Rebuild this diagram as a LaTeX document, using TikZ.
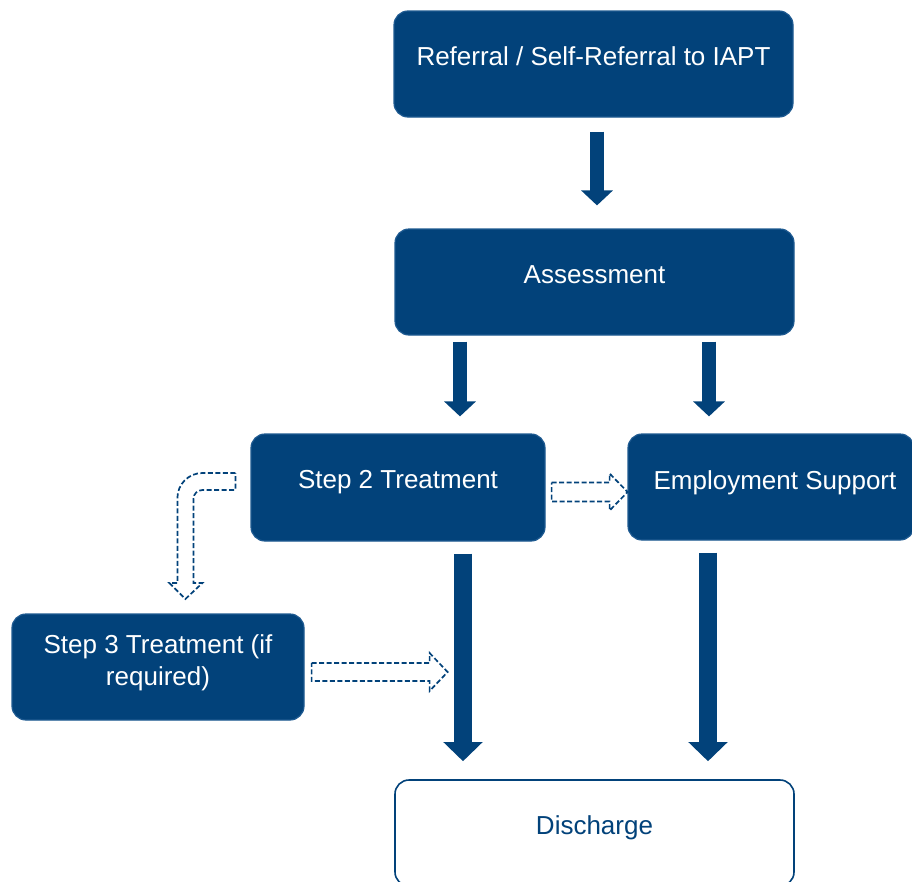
\documentclass[tikz,border=0pt]{standalone}
\usepackage{fontspec}
\setmainfont{Liberation Sans}
\usetikzlibrary{arrows.meta,calc}
\definecolor{nhsblue}{RGB}{2,66,122}
\definecolor{edgeblue}{RGB}{30,90,145}
\tikzset{
  box/.style={draw=edgeblue, line width=1.2pt, fill=nhsblue, rounded corners=14pt, inner sep=0pt},
  whitebox/.style={draw=nhsblue, line width=1.6pt, fill=white, rounded corners=14pt, inner sep=0pt},
  lbl/.style={text=white, font=\fontsize{26}{32}\selectfont, align=center, inner sep=0pt},
  dlbl/.style={text=nhsblue, font=\fontsize{26}{32}\selectfont, align=center, inner sep=0pt},
  bigarr/.style={draw=nhsblue, line width=14.5pt, -{Triangle[width=31pt,length=15pt]}},
  hugearr/.style={draw=nhsblue, line width=18pt, -{Triangle[width=38pt,length=19pt]}},
  dasharr/.style={draw=nhsblue, line width=1.7pt, dash pattern=on 5pt off 2.5pt, fill=white, line join=miter}
}
\begin{document}
\begin{tikzpicture}[x=1pt,y=-1pt]
\useasboundingbox (0,0) rectangle (912,881);
% boxes
\node[box, minimum width=399pt, minimum height=106pt] (ref) at (593.5,64) {};
\node[lbl] (reft) at ([yshift=8pt]ref.center) {Referral / Self-Referral to IAPT};
\node[box, minimum width=399pt, minimum height=106pt] (ass) at (594.5,282) {};
\node[lbl] (asst) at ([yshift=7pt]ass.center) {Assessment};
\node[box, minimum width=294pt, minimum height=107pt] (s2) at (398,487.5) {};
\node[lbl] (s2t) at ([yshift=5pt]s2.center) {Step 2 Treatment};
\node[box, minimum width=286pt, minimum height=106pt] (emp) at (771,487) {};
\node[lbl] (empt) at ([xshift=4pt,yshift=4pt]emp.center) {Employment Support};
\node[box, minimum width=292pt, minimum height=106pt] (s3) at (158,667) {};
\node[lbl] (s3t) at ([yshift=4pt]s3.center) {Step 3 Treatment (if\\required)};
\node[whitebox, minimum width=399pt, minimum height=106pt] (dis) at (594.5,833) {};
\node[dlbl] (dist) at ([yshift=5pt]dis.center) {Discharge};
% solid arrows
\draw[bigarr] ([xshift=3.5pt,yshift=-14pt]ref.south) -- ([xshift=2.5pt,yshift=23pt]ass.north);
\draw[bigarr] ([xshift=-134.5pt,yshift=-6pt]ass.south) -- ([xshift=62pt,yshift=17pt]s2.north);
\draw[bigarr] ([xshift=114.5pt,yshift=-6pt]ass.south) -- ([xshift=-62pt,yshift=17pt]emp.north);
\draw[hugearr] ([xshift=65pt,yshift=-12pt]s2.south) -- ([xshift=-131.5pt,yshift=18pt]dis.north);
\draw[hugearr] ([xshift=-63pt,yshift=-12pt]emp.south) -- ([xshift=113.5pt,yshift=18pt]dis.north);
% dashed block arrows
\draw[dasharr] ([xshift=6pt,yshift=5pt]s2.east) -- ++(58,0) -- ++(0,-9) -- ++(18,18.5) -- ++(-18,18.5) -- ++(0,-9) -- ++(-58,0) -- cycle;
\draw[dasharr] ([xshift=7pt,yshift=4pt]s3.east) -- ++(118,0) -- ++(0,-10) -- ++(18,19) -- ++(-18,19) -- ++(0,-10) -- ++(-118,0) -- cycle;
\draw[dasharr] ([xshift=-15pt,yshift=14.5pt]s2.west) -- ++(-33,0) arc[start angle=90,end angle=180,radius=25pt]
  -- ++(0,85) -- ++(-8,0) -- ++(16,16) -- ++(17,-16) -- ++(-9,0) -- ++(0,-84)
  arc[start angle=180,end angle=90,radius=9pt] -- ++(33,0) -- cycle;
\end{tikzpicture}
\end{document}
